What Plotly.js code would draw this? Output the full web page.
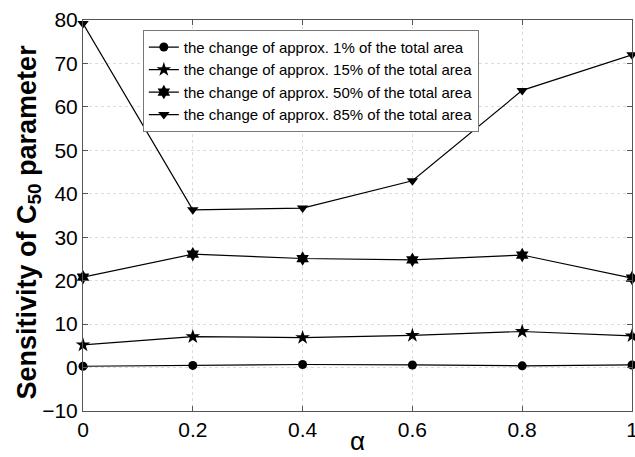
<!DOCTYPE html>
<html><head><meta charset="utf-8">
<script src="https://cdn.plot.ly/plotly-3.0.1.min.js"></script>
<style>body{margin:0;padding:0;background:#fff}#chart{width:635px;height:457px}</style>
</head><body><div id="chart"></div>
<script>
const alpha = [0, 0.2, 0.4, 0.6, 0.8, 1];
const s1 = [0.3, 0.5, 0.7, 0.6, 0.4, 0.6];
const s15 = [5.2, 7.1, 6.9, 7.4, 8.3, 7.3];
const s50 = [20.8, 26.1, 25.1, 24.8, 25.9, 20.6];
const s85 = [79.2, 36.3, 36.7, 43.0, 63.8, 72.0];
const names = [
  'the change of approx. 1% of the total area',
  'the change of approx. 15% of the total area',
  'the change of approx. 50% of the total area',
  'the change of approx. 85% of the total area'
];
const xTitle = 'α';
const yTitle = '<b>Sensitivity of C<sub>50</sub> parameter</b>';
const symbols = ['circle', 'star', 'hexagram', 'triangle-down'];
const sizes = [9, 11, 11, 10];
const series = [s1, s15, s50, s85];
const FONT = 'Arial';
const traces = series.map((s, i) => ({
  x: alpha, y: s, name: names[i], type: 'scatter', mode: 'lines+markers',
  line: {color: '#000', width: 1.2},
  marker: {symbol: symbols[i], size: sizes[i], color: '#000'},
  cliponaxis: false
}));
const axisCommon = {
  showline: true, linecolor: '#555', linewidth: 1, mirror: 'ticks',
  ticks: 'inside', ticklen: 5, tickcolor: '#555',
  showgrid: true, gridcolor: '#dcdcdc', griddash: 'dot', zeroline: false,
  ticklabeloverflow: 'allow',
  tickfont: {family: FONT, size: 21, color: '#000'}
};
const layout = {
  width: 635, height: 457,
  margin: {l: 83, r: 3, t: 20, b: 46},
  paper_bgcolor: '#fff', plot_bgcolor: '#fff',
  font: {family: FONT},
  showlegend: true,
  legend: {x: 0.109, y: 0.975, xanchor: 'left', yanchor: 'top',
    bordercolor: '#777', borderwidth: 1, bgcolor: '#fff',
    font: {family: FONT, size: 15, color: '#000'},
    tracegroupgap: 0, itemwidth: 30},
  xaxis: Object.assign({}, axisCommon, {
    range: [0, 1], tickvals: [0, 0.2, 0.4, 0.6, 0.8, 1],
    ticktext: ['0', '0.2', '0.4', '0.6', '0.8', '1']
  }),
  yaxis: Object.assign({}, axisCommon, {
    range: [-10, 80], tickvals: [-10, 0, 10, 20, 30, 40, 50, 60, 70, 80]
  }),
  annotations: [
    {text: xTitle, xref: 'paper', yref: 'paper', x: 0.5, y: 0, xanchor: 'center', yanchor: 'bottom',
     yshift: -46, borderpad: 0, showarrow: false, font: {family: FONT, size: 26, color: '#000'}},
    {text: yTitle, xref: 'paper', yref: 'paper', x: 0, y: 0.5, xanchor: 'center', yanchor: 'middle',
     xshift: -55, yshift: -7, textangle: -90, showarrow: false, font: {family: FONT, size: 27, color: '#000'}}
  ]
};
Plotly.newPlot('chart', traces, layout, {displayModeBar: false, staticPlot: true});
</script></body></html>
